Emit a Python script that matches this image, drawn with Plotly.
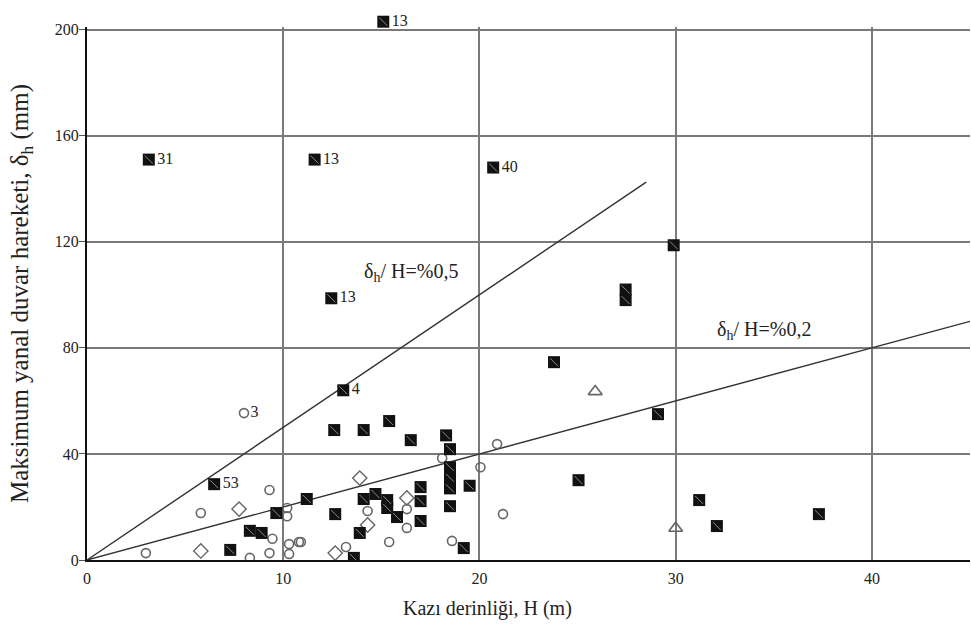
import plotly.graph_objects as go

# ---- data (H in m, delta_h in mm) ----
sq_x = [3.15, 11.6, 20.7, 12.45, 13.06, 6.48,
        29.9, 27.45, 27.45, 23.8, 29.1, 25.05, 31.2, 32.1, 37.3,
        12.6, 14.1, 15.4, 16.5, 18.3, 18.5, 18.5, 18.5, 18.5, 19.5, 18.5, 19.2,
        17.0, 17.0, 17.0, 11.2, 12.65, 13.9, 13.6, 14.1, 14.7, 15.3, 15.3, 15.8,
        7.3, 8.3, 8.9, 9.65]
sq_y = [151, 151, 148, 98.7, 64, 28.6,
        118.7, 102, 98, 74.6, 55, 30.1, 22.6, 12.8, 17.3,
        49, 49, 52.4, 45.2, 47, 41.8, 35, 31, 27, 28, 20.3, 4.5,
        27.5, 22.2, 14.7, 23, 17.3, 10.2, 0.8, 23, 24.9, 22.6, 19.6, 16.2,
        3.8, 11, 10.2, 17.7]
sq_labels = ["31", "13", "40", "13", "4", "53"] + [""] * 37

# the one square above the 200 mm frame
out_x = [15.1]
out_y = [203]
out_labels = ["13"]

circ_x = [8.0, 20.9, 20.05, 18.1, 21.2, 14.3, 16.3, 16.3, 15.4, 18.6, 13.2, 10.9,
          3.0, 8.3, 9.3, 10.3, 10.3, 10.8, 9.45, 10.2, 10.2, 5.8, 9.3]
circ_y = [55.4, 43.7, 35, 38.4, 17.3, 18.5, 19.2, 12.1, 6.8, 7.2, 4.9, 6.8,
          2.6, 0.8, 2.6, 2.3, 6, 6.8, 8, 19.6, 16.5, 17.7, 26.4]
circ_labels = ["3"] + [""] * 22

dia_x = [13.9, 14.3, 16.3, 12.65, 5.8, 7.75]
dia_y = [30.9, 13.2, 23.4, 2.6, 3.4, 19.2]

tri_x = [25.9, 30.0]
tri_y = [63.5, 12.0]

# ratio lines delta_h / H
line05_x = [0, 28.5]
line05_y = [0, 142.5]
line02_x = [0, 45]
line02_y = [0, 90]

x_ticks = [0, 10, 20, 30, 40]
y_ticks = [0, 40, 80, 120, 160, 200]

X_RANGE = [0, 45]
Y_RANGE = [0, 201]

SERIF = "Liberation Serif, Times New Roman, serif"
GRID = "#7a7a7a"

# layout geometry (px)
W, H = 971, 634
M_L, M_R, M_T, M_B = 87, 1, 10, 74
PLOT_W = W - M_L - M_R
PLOT_H = H - M_T - M_B
MAIN_TOP_PX = 27  # frame top (200 mm line)
D = (H - M_B - MAIN_TOP_PX) / PLOT_H
Y2_TOP = Y_RANGE[1] / D

fig = go.Figure()

fig.add_trace(go.Scatter(x=line05_x, y=line05_y, mode="lines",
                         line=dict(color="#333", width=1.4), hoverinfo="skip"))
fig.add_trace(go.Scatter(x=line02_x, y=line02_y, mode="lines",
                         line=dict(color="#333", width=1.4), hoverinfo="skip"))

fig.add_trace(go.Scatter(x=circ_x, y=circ_y, mode="markers+text", text=circ_labels,
                         textposition="middle right",
                         textfont=dict(family=SERIF, size=16, color="#222"),
                         marker=dict(symbol="circle-open", size=9,
                                     line=dict(color="#666", width=1.6), color="#666")))
fig.add_trace(go.Scatter(x=dia_x, y=dia_y, mode="markers",
                         marker=dict(symbol="diamond-open", size=11,
                                     line=dict(color="#666", width=1.4), color="#666")))
fig.add_trace(go.Scatter(x=tri_x, y=tri_y, mode="markers",
                         marker=dict(symbol="triangle-up-open", size=12,
                                     line=dict(color="#666", width=1.6), color="#666")))

fig.add_trace(go.Scatter(x=sq_x, y=sq_y, mode="markers+text", text=sq_labels,
                         textposition="middle right",
                         textfont=dict(family=SERIF, size=16, color="#222"),
                         marker=dict(symbol="square", size=12, color="#111",
                                     line=dict(color="#111", width=0))))
fig.add_trace(go.Scatter(x=sq_x, y=sq_y, mode="markers",
                         marker=dict(symbol="line-nw", size=8,
                                     line=dict(color="#8a8a8a", width=1)),
                         hoverinfo="skip"))

# outlier on an invisible full-height subplot with the same scale
fig.add_trace(go.Scatter(x=out_x, y=out_y, mode="markers+text", text=out_labels,
                         textposition="middle right", xaxis="x2", yaxis="y2",
                         textfont=dict(family=SERIF, size=16, color="#222"),
                         marker=dict(symbol="square", size=12, color="#111")))
fig.add_trace(go.Scatter(x=out_x, y=out_y, mode="markers", xaxis="x2", yaxis="y2",
                         marker=dict(symbol="line-nw", size=8,
                                     line=dict(color="#8a8a8a", width=1)),
                         hoverinfo="skip"))

fig.add_annotation(x=14.0, y=108.5, xanchor="left", yanchor="middle", showarrow=False,
                   text="δ<sub>h</sub>/ H=%0,5",
                   font=dict(family=SERIF, size=20, color="#222"))
fig.add_annotation(x=32.0, y=86.5, xanchor="left", yanchor="middle", showarrow=False,
                   text="δ<sub>h</sub>/ H=%0,2",
                   font=dict(family=SERIF, size=20, color="#222"))

# x-axis title (sits left of the plot centre in the original)
fig.add_annotation(xref="paper", yref="paper", x=(487 - M_L) / PLOT_W,
                   y=-(608 - (H - M_B)) / PLOT_H, xanchor="center", yanchor="middle",
                   showarrow=False, text="Kazı derinliği, H (m)",
                   font=dict(family=SERIF, size=20, color="#222"))

fig.update_layout(
    width=W, height=H,
    margin=dict(l=M_L, r=M_R, t=M_T, b=M_B),
    paper_bgcolor="white", plot_bgcolor="rgba(0,0,0,0)",
    showlegend=False,
    font=dict(family=SERIF, size=16, color="#222"),
    xaxis=dict(range=X_RANGE, tickvals=x_ticks, showgrid=True, gridcolor=GRID,
               gridwidth=1.8, zeroline=False, showline=True, linecolor="#111",
               linewidth=2, ticks="", ticklabelstandoff=3, automargin=False,
               tickfont=dict(family=SERIF, size=16)),
    yaxis=dict(range=Y_RANGE, domain=[0, D], tickvals=y_ticks, showgrid=True,
               gridcolor=GRID, gridwidth=1.8, zeroline=False, showline=True,
               linecolor="#111", linewidth=2, ticks="outside", ticklen=6,
               tickcolor="#555", ticklabelstandoff=-3, automargin=False,
               tickfont=dict(family=SERIF, size=16),
               title=dict(text="Maksimum yanal duvar hareketi, δ<sub>h</sub> (mm)",
                          standoff=19, font=dict(family=SERIF, size=25))),
    xaxis2=dict(range=X_RANGE, domain=[0, 1], anchor="y2", visible=False,
                showgrid=False, zeroline=False, automargin=False),
    yaxis2=dict(range=[0, Y2_TOP], domain=[0, 1], anchor="x2", visible=False,
                showgrid=False, zeroline=False, automargin=False),
)

fig.write_html("out.html", config={"displayModeBar": False},
               post_script="document.body.style.margin='0';"
                           "document.body.style.overflow='hidden';")
